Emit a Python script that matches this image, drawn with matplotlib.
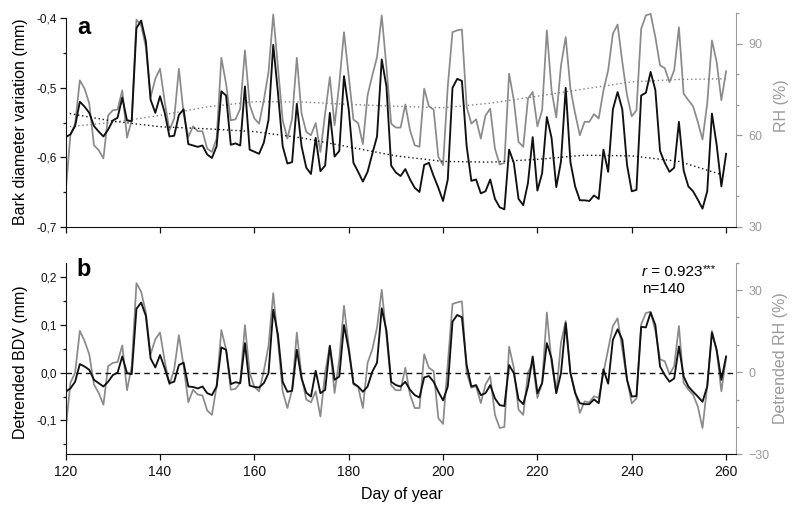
import numpy as np
import matplotlib
matplotlib.use("Agg")
import matplotlib.pyplot as plt
from matplotlib.ticker import MultipleLocator, FuncFormatter

plt.rcParams['font.family'] = ['Liberation Sans', 'DejaVu Sans']

days = np.arange(120, 261)

bdv = [-0.571, -0.567, -0.555, -0.520, -0.527, -0.536, -0.555, -0.563, -0.570, -0.560,
       -0.547, -0.543, -0.514, -0.547, -0.548, -0.414, -0.403, -0.433, -0.517, -0.536,
       -0.512, -0.536, -0.570, -0.569, -0.539, -0.531, -0.581, -0.583, -0.585, -0.583,
       -0.596, -0.601, -0.584, -0.505, -0.511, -0.582, -0.580, -0.583, -0.498, -0.589,
       -0.592, -0.595, -0.579, -0.546, -0.438, -0.507, -0.584, -0.609, -0.607, -0.523,
       -0.584, -0.615, -0.624, -0.572, -0.620, -0.612, -0.536, -0.599, -0.591, -0.483,
       -0.531, -0.608, -0.621, -0.635, -0.621, -0.595, -0.570, -0.459, -0.498, -0.612,
       -0.622, -0.627, -0.617, -0.632, -0.644, -0.650, -0.611, -0.608, -0.627, -0.644,
       -0.663, -0.632, -0.500, -0.487, -0.490, -0.584, -0.634, -0.632, -0.652, -0.649,
       -0.632, -0.660, -0.672, -0.675, -0.589, -0.608, -0.660, -0.669, -0.637, -0.571,
       -0.648, -0.623, -0.542, -0.572, -0.643, -0.606, -0.500, -0.607, -0.642, -0.662,
       -0.662, -0.663, -0.655, -0.660, -0.589, -0.621, -0.531, -0.506, -0.531, -0.611,
       -0.649, -0.647, -0.511, -0.507, -0.477, -0.503, -0.591, -0.608, -0.621, -0.615,
       -0.549, -0.619, -0.642, -0.649, -0.661, -0.674, -0.649, -0.537, -0.582, -0.642,
       -0.595]

rh = [41.5, 60.0, 63.8, 78.0, 75.3, 70.4, 56.7, 55.1, 52.4, 66.5,
      68.2, 68.4, 74.7, 59.2, 64.9, 97.9, 96.0, 88.9, 72.5, 78.5,
      81.8, 70.9, 61.6, 65.5, 81.8, 67.1, 59.4, 62.9, 61.3, 61.3,
      55.6, 54.5, 58.9, 85.4, 76.9, 64.9, 65.2, 68.7, 87.8, 70.0,
      65.5, 63.8, 71.5, 80.7, 99.6, 82.3, 64.9, 58.9, 65.5, 85.4,
      67.1, 61.1, 60.0, 64.0, 54.5, 67.1, 79.1, 63.3, 76.9, 93.8,
      79.6, 65.1, 64.0, 57.1, 73.1, 79.6, 85.6, 99.3, 82.3, 63.8,
      62.5, 62.5, 70.1, 61.6, 56.7, 56.2, 75.3, 69.5, 68.4, 52.9,
      50.2, 76.0, 93.8, 94.4, 94.7, 69.3, 63.8, 65.2, 58.9, 66.5,
      68.7, 55.6, 50.4, 50.9, 80.2, 71.5, 57.8, 56.2, 72.0, 74.2,
      62.9, 68.2, 94.4, 74.7, 65.8, 82.9, 92.2, 75.3, 67.1, 60.0,
      64.4, 64.4, 66.9, 65.5, 74.7, 81.3, 93.3, 96.3, 84.0, 73.1,
      66.2, 68.2, 94.9, 99.3, 99.8, 92.2, 82.9, 82.0, 77.4, 81.3,
      95.4, 73.6, 71.5, 69.5, 64.4, 58.6, 70.4, 91.1, 84.0, 71.5,
      81.0]

dbdv = [-0.040, -0.033, -0.019, 0.018, 0.013, 0.006, -0.015, -0.022, -0.029, -0.019,
        -0.005, 0.000, 0.034, -0.001, -0.003, 0.134, 0.147, 0.119, 0.030, 0.011,
        0.037, 0.009, -0.022, -0.019, 0.016, 0.021, -0.029, -0.030, -0.033, -0.029,
        -0.043, -0.047, -0.029, 0.053, 0.048, -0.024, -0.020, -0.022, 0.062, -0.027,
        -0.030, -0.031, -0.022, -0.001, 0.132, 0.079, -0.019, -0.040, -0.038, 0.048,
        -0.012, -0.042, -0.050, 0.004, -0.043, -0.036, 0.056, -0.015, -0.008, 0.100,
        0.048, -0.022, -0.029, -0.040, -0.029, 0.002, 0.021, 0.135, 0.088, -0.019,
        -0.026, -0.029, -0.019, -0.036, -0.047, -0.052, -0.010, -0.007, -0.019, -0.040,
        -0.058, -0.029, 0.107, 0.121, 0.116, 0.016, -0.029, -0.026, -0.047, -0.043,
        -0.026, -0.054, -0.068, -0.070, 0.016, -0.001, -0.056, -0.066, -0.029, 0.034,
        -0.043, -0.022, 0.062, 0.030, -0.043, -0.001, 0.104, -0.001, -0.043, -0.064,
        -0.066, -0.066, -0.056, -0.064, 0.007, -0.023, 0.069, 0.091, 0.069, -0.015,
        -0.050, -0.049, 0.096, 0.095, 0.126, 0.100, 0.013, -0.005, -0.019, -0.012,
        0.055, -0.008, -0.029, -0.040, -0.050, -0.061, -0.029, 0.084, 0.048, -0.015,
        0.034]

drh = [-21.1, -3.9, -0.2, 15.1, 11.4, 6.5, -4.5, -7.6, -11.9, 2.2,
       3.4, 3.7, 9.8, -6.6, 2.2, 32.5, 29.4, 21.8, 6.5, 12.0,
       14.5, 4.0, -4.5, 1.0, 13.5, 2.2, -11.0, -6.4, -8.2, -8.5,
       -14.0, -15.6, -5.1, 15.4, 8.3, -6.4, -6.1, -3.9, 17.2, -0.2,
       -5.4, -7.0, 0.4, 9.6, 28.9, 11.4, -7.0, -13.1, -6.4, 14.5,
       -1.5, -10.0, -11.0, -7.0, -16.2, -0.2, 9.8, -7.6, 4.7, 24.3,
       9.6, -4.5, -5.4, -13.1, 3.4, 8.3, 16.3, 30.1, 13.2, -4.8,
       -6.6, -6.6, 1.6, -8.2, -13.1, -13.1, 6.5, 1.6, 0.4, -16.8,
       -18.9, 3.0, 24.9, 25.5, 25.9, -0.2, -5.7, -5.1, -11.3, -4.5,
       -1.5, -15.6, -20.4, -20.0, 9.3, 1.6, -13.7, -15.6, -0.2, 3.4,
       -9.4, -3.9, 21.8, 3.4, -7.6, 10.8, 18.7, -0.2, -7.0, -14.9,
       -10.7, -11.0, -8.8, -9.4, -0.2, 8.3, 16.9, 19.7, 8.3, -2.7,
       -11.4, -9.6, 17.5, 21.6, 22.1, 15.1, 4.7, 4.0, -0.8, 2.2,
       16.9, -3.9, -6.4, -8.2, -12.5, -20.4, -5.1, 15.1, 7.7, -7.0,
       5.3]

trend_days = [120, 130, 140, 150, 160, 170, 180, 190, 200, 210, 220, 230, 240, 250, 260]
bdv_trend = [-0.536, -0.548, -0.556, -0.559, -0.563, -0.572, -0.585, -0.598, -0.606,
             -0.607, -0.603, -0.597, -0.598, -0.606, -0.627]
rh_trend = [62.7, 64.2, 66.5, 69.3, 71.0, 70.9, 70.1, 69.5, 69.0, 70.5, 72.8, 75.2,
            77.5, 78.3, 78.5]

xticks = [120, 140, 160, 180, 200, 220, 240, 260]

BLACK = '#111111'
GRAY = '#8a8a8a'
AXGRAY = '#9a9a9a'

def comma(v, pos):
    s = f"{v:.1f}"
    if s == "-0.0":
        s = "0.0"
    return s.replace('.', ',')

fig = plt.figure(figsize=(8, 5.16), dpi=100)
L, W = 0.0821, 0.8379
ax1 = fig.add_axes([L, 0.5607, W, 0.4136])
ax1r = ax1.twinx()
ax2 = fig.add_axes([L, 0.1196, W, 0.3713])
ax2r = ax2.twinx()

for a, ar in ((ax1, ax1r), (ax2, ax2r)):
    a.set_zorder(ar.get_zorder() + 1)
    a.patch.set_visible(False)
    a.spines['top'].set_visible(False)
    a.spines['right'].set_visible(False)
    ar.spines['top'].set_visible(False)
    ar.spines['left'].set_visible(False)
    ar.spines['bottom'].set_visible(False)
    ar.spines['right'].set_color(AXGRAY)
    a.spines['left'].set_color(BLACK)
    a.spines['bottom'].set_color(BLACK)
    a.set_xlim(120, 262.1)
    a.set_xticks(xticks)
    a.yaxis.set_major_locator(MultipleLocator(0.1))
    a.yaxis.set_minor_locator(MultipleLocator(0.05))
    a.yaxis.set_major_formatter(FuncFormatter(comma))
    ar.yaxis.set_major_locator(MultipleLocator(30))
    ar.yaxis.set_minor_locator(MultipleLocator(10))
    a.tick_params(axis='y', which='major', direction='out', length=4.5, width=0.9,
                  labelsize=8.5, pad=2, colors=BLACK)
    a.tick_params(axis='y', which='minor', direction='out', length=2.5, width=0.9, colors=BLACK)
    a.tick_params(axis='x', which='major', direction='out', length=4.5, width=0.9,
                  labelsize=10, pad=3.5, colors=BLACK)
    ar.tick_params(axis='y', which='major', direction='out', length=4, width=0.9,
                   labelsize=9, pad=5, colors=AXGRAY)
    ar.tick_params(axis='y', which='minor', direction='out', length=2.5, width=0.9,
                   colors=AXGRAY)

# Panel a
ax1r.plot(days, rh, color=GRAY, lw=1.25)
ax1r.plot(trend_days, rh_trend, color='#808080', lw=1.0, ls=(0, (1, 2)))
ax1.plot(days, bdv, color=BLACK, lw=1.35)
ax1.plot(trend_days, bdv_trend, color=BLACK, lw=1.0, ls=(0, (1, 2)))
ax1.set_ylim(-0.7, -0.3925)
ax1.spines['left'].set_bounds(-0.7, -0.4)
ax1r.set_ylim(30, 100)
ax1.tick_params(axis='x', labelbottom=False)

# Panel b
ax2r.plot(days, drh, color=GRAY, lw=1.25)
ax2.axhline(0, color=BLACK, lw=1.0, ls=(0, (4, 3)))
ax2.plot(days, dbdv, color=BLACK, lw=1.35)
ax2.set_ylim(-0.1711, 0.2306)
ax2r.set_ylim(-30, 40)

# Labels
fig.text(0.026, 1 - 122 / 516, 'Bark diameter variation (mm)', rotation=90,
         ha='center', va='center', fontsize=11.5)
fig.text(0.026, 1 - 362 / 516, 'Detrended BDV (mm)', rotation=90,
         ha='center', va='center', fontsize=11.5)
fig.text(0.977, 1 - 106 / 516, 'RH (%)', rotation=90, ha='center', va='center',
         fontsize=11.5, color=AXGRAY)
fig.text(0.975, 1 - 358 / 516, 'Detrended RH (%)', rotation=90, ha='center',
         va='center', fontsize=11.5, color=AXGRAY)
fig.text(0.503, 1 - 495 / 516, 'Day of year', ha='center', va='center', fontsize=11.5)

fig.text(0.096, 1 - 27 / 516, 'a', ha='left', va='center', fontsize=17, fontweight='bold')
fig.text(0.096, 1 - 269 / 516, 'b', ha='left', va='center', fontsize=17, fontweight='bold')

t_r = fig.text(0.802, 1 - 276 / 516, 'r', ha='left', va='baseline', fontsize=11,
               style='italic')
t_val = ax2.annotate(' = 0.923', xy=(1, 0), xycoords=t_r, ha='left', va='bottom',
                     fontsize=11)
ax2.annotate('***', xy=(1, 0), xycoords=t_val, xytext=(0.3, 5.2),
             textcoords='offset points', ha='left', va='baseline', fontsize=8)
fig.text(0.802, 1 - 289 / 516, 'n=140', ha='left', va='center', fontsize=11)

fig.savefig('out.png', dpi=100)
